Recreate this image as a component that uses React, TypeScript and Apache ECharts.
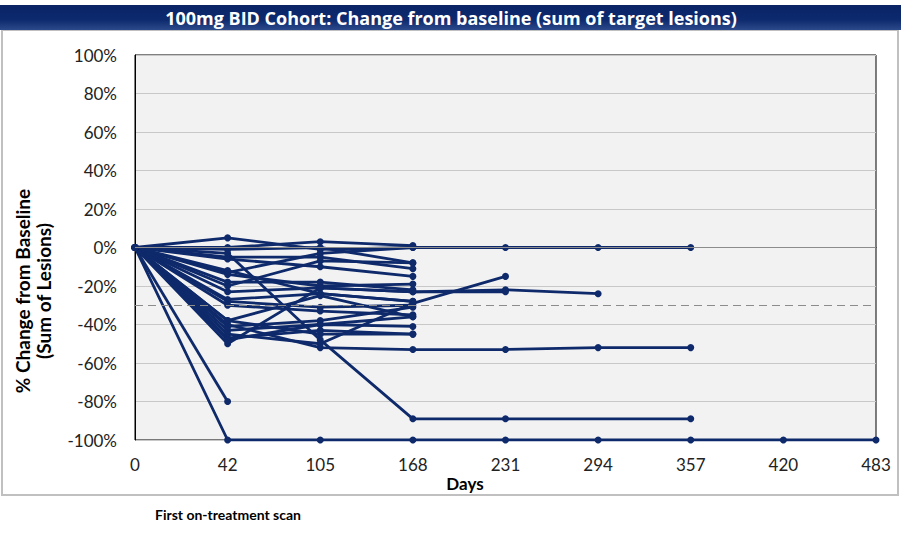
import React, { useEffect, useRef } from "react";
import * as echarts from "echarts";

const days = ["0", "42", "105", "168", "231", "294", "357", "420", "483"];
const yTicks = [-100, -80, -60, -40, -20, 0, 20, 40, 60, 80, 100];

const s01 = [0, -100, -100, -100, -100, -100, -100, -100, -100];
const s02 = [0, -80];
const s03 = [0, 5, -1, 0, 0, 0, 0];
const s04 = [0, 0, 3, 1];
const s05 = [0, -1, 0, -8];
const s06 = [0, -3, -48, -89, -89, null, -89];
const s07 = [0, -5, -5, -11];
const s08 = [0, -6, -10, -15];
const s09 = [0, -13, -3, 0];
const s10 = [0, -14, -20, -19];
const s11 = [0, -18, -18, -22];
const s12 = [0, -23, -21, -23, -22, -24];
const s13 = [0, -27, -24, -28];
const s14 = [0, -28, -31, -30];
const s15 = [0, -30, -33, -35];
const s16 = [0, -38, -25, -36];
const s17 = [0, -40, -52, -53, -53, -52, -52];
const s18 = [0, -41, -38, -31];
const s19 = [0, -43, -40, -41];
const s20 = [0, -45, -50, -29, -15];
const s21 = [0, -47, -43, -45];
const s22 = [0, -50, -21, -23, -23];
const s23 = [0, -38, -45, -45];
const s24 = [0, -20, -7, -8];
const s25 = [0, -12, -24, -28];
const s26 = [0, -48, -40, -36];

const allSeries = [s01, s02, s03, s04, s05, s06, s07, s08, s09, s10, s11, s12, s13, s14, s15, s16, s17, s18, s19, s20, s21, s22, s23, s24, s25, s26];

const NAVY = "#0f2a6b";
const FONT = "Lato, 'Open Sans', sans-serif";

export default function App() {
  const ref = useRef<HTMLDivElement>(null);
  useEffect(() => {
    const chart = echarts.init(ref.current!, null, { renderer: "svg" });
    const series: any[] = allSeries.map((d, i) => ({
      type: "line",
      data: d,
      connectNulls: true,
      symbol: "circle",
      symbolSize: 7,
      lineStyle: { color: NAVY, width: 2.8 },
      itemStyle: { color: NAVY },
      z: 3,
      ...(i === 0
        ? {
            markLine: {
              silent: true,
              symbol: "none",
              label: { show: false },
              data: [
                { yAxis: 0, lineStyle: { color: "#8c8c8c", width: 1, type: "solid" } },
                { yAxis: -30, lineStyle: { color: "#8c8c8c", width: 1.2, type: [8, 5] } },
              ],
            },
          }
        : {}),
    }));
    chart.setOption({
      animation: false,
      backgroundColor: "#ffffff",
      grid: {
        left: 135,
        top: 55,
        right: 25,
        bottom: 93,
        show: true,
        backgroundColor: "#f2f2f2",
        borderColor: "#000",
        borderWidth: 1,
      },
      xAxis: {
        type: "category",
        data: days,
        boundaryGap: false,
        axisLine: { lineStyle: { color: "#000" } },
        axisTick: { show: false },
        axisLabel: { fontSize: 17, color: "#222", margin: 16, fontFamily: FONT },
        splitLine: { show: false },
      },
      yAxis: {
        type: "value",
        min: -100,
        max: 100,
        interval: 20,
        axisLine: { show: true, lineStyle: { color: "#000" } },
        axisTick: { show: false },
        axisLabel: {
          fontSize: 17,
          color: "#222",
          margin: 18,
          fontFamily: FONT,
          formatter: (v: number) => (yTicks.includes(v) ? v + "%" : ""),
        },
        splitLine: { lineStyle: { color: "#c8c8c8", width: 1 } },
      },
      series,
      graphic: [
        {
          type: "rect",
          shape: { x: 2, y: 30, width: 896, height: 465 },
          style: { fill: "none", stroke: "#c0c0c0", lineWidth: 2 },
          silent: true,
          z: -1,
        },
        {
          type: "rect",
          shape: { x: 0, y: 5, width: 901, height: 25 },
          style: {
            fill: new echarts.graphic.LinearGradient(0, 0, 0, 1, [
              { offset: 0, color: "#0a2466" },
              { offset: 0.6, color: "#0d2a6e" },
              { offset: 1, color: "#2c4a8a" },
            ]),
          },
          z: 10,
        },
        {
          type: "text",
          x: 451,
          y: 18,
          style: {
            text: "100mg BID Cohort: Change from baseline (sum of target lesions)",
            fill: "#ffffff",
            font: "bold 18px 'Open Sans', sans-serif",
            align: "center",
            verticalAlign: "middle",
          },
          z: 11,
        },
        {
          type: "text",
          x: 22,
          y: 291,
          rotation: Math.PI / 2,
          style: {
            text: "% Change from Baseline",
            fill: "#000",
            font: "bold 19px Lato, sans-serif",
            align: "center",
            verticalAlign: "middle",
          },
        },
        {
          type: "text",
          x: 43,
          y: 291,
          rotation: Math.PI / 2,
          style: {
            text: "(Sum of Lesions)",
            fill: "#000",
            font: "bold 19px Lato, sans-serif",
            align: "center",
            verticalAlign: "middle",
          },
        },
        {
          type: "text",
          x: 465,
          y: 483,
          style: {
            text: "Days",
            fill: "#000",
            font: "bold 17px Lato, sans-serif",
            align: "center",
            verticalAlign: "middle",
          },
        },
        {
          type: "text",
          x: 155,
          y: 514,
          style: {
            text: "First on-treatment scan",
            fill: "#000",
            font: "bold 14px Lato, sans-serif",
            align: "left",
            verticalAlign: "middle",
          },
        },
      ],
    });
    return () => chart.dispose();
  }, []);
  return (
    <div
      ref={ref}
      style={{ position: "fixed", left: 0, top: 0, width: 901, height: 533 }}
    />
  );
}
